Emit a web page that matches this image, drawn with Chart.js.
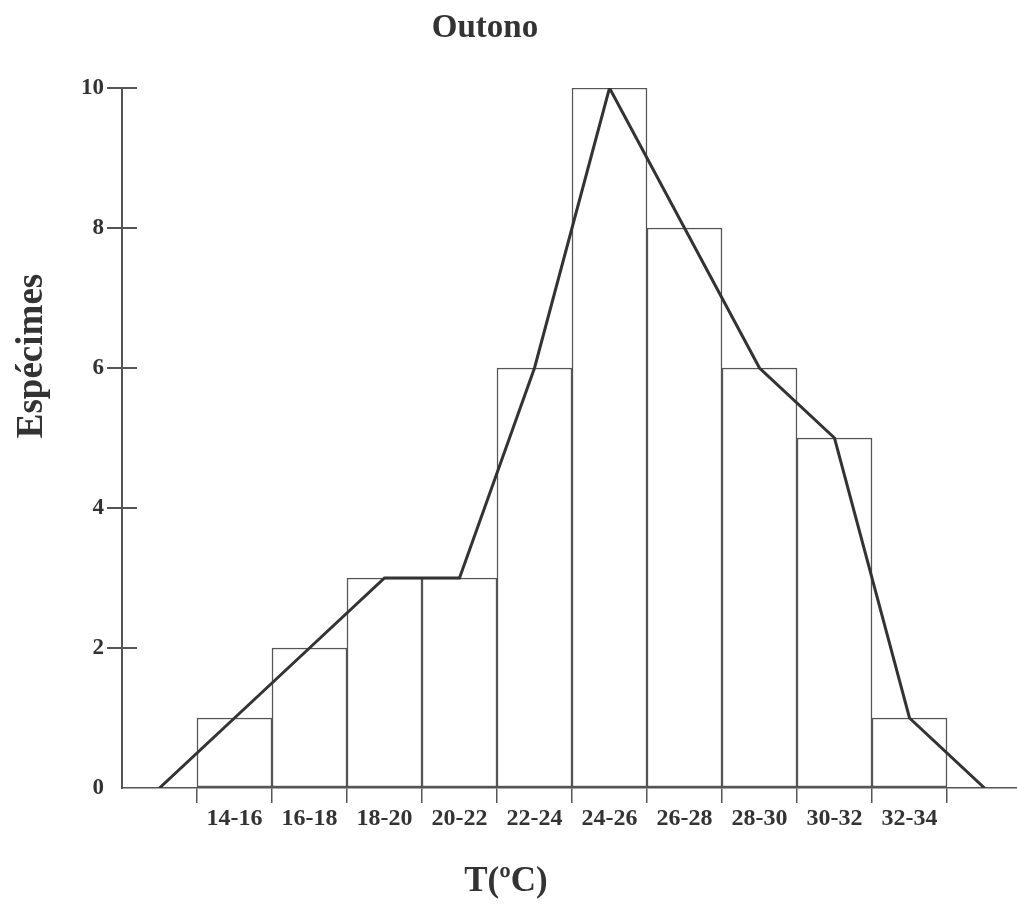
<!DOCTYPE html>
<html>
<head>
<meta charset="utf-8">
<script src="https://cdn.jsdelivr.net/npm/chart.js@4.4.1/dist/chart.umd.min.js"></script>
<style>
  body { margin: 0; background: #fff; }
  #wrap { width: 1017px; height: 907px; position: relative; }
</style>
</head>
<body>
<div id="wrap"><canvas id="chart"></canvas></div>
<script>
// classes de temperatura e número de espécimes
const categories = ["14-16", "16-18", "18-20", "20-22", "22-24", "24-26", "26-28", "28-30", "30-32", "32-34"];
const counts = [1, 2, 3, 3, 6, 10, 8, 6, 5, 1];
// polígono de frequências (com zeros nas pontas)
const polygon = [0, 1, 2, 3, 3, 6, 10, 8, 6, 5, 1, 0];
const yTicks = [0, 2, 4, 6, 8, 10];

const serif = "'Liberation Serif', 'Times New Roman', serif";
const ink = "#333";
const lineGrey = "#555";

const barData = counts.map((v, i) => ({ x: i + 1, y: v }));
const polyData = polygon.map((v, i) => ({ x: i, y: v }));
const edges = categories.map((c, i) => i + 0.5).concat([categories.length + 0.5]);

// texts placed like the original figure
const labelsPlugin = {
  id: "labels",
  afterDraw(chart) {
    const ctx = chart.ctx;
    const y = chart.scales.y;
    ctx.save();
    // inner half of y tick marks
    ctx.strokeStyle = lineGrey;
    ctx.lineWidth = 2;
    yTicks.forEach(v => {
      if (v === 0) return;
      const py = Math.round(y.getPixelForValue(v));
      ctx.beginPath();
      ctx.moveTo(y.right, py);
      ctx.lineTo(y.right + 15, py);
      ctx.stroke();
    });

    ctx.fillStyle = ink;
    ctx.textAlign = "center";
    ctx.textBaseline = "alphabetic";
    ctx.font = "bold 33px " + serif;
    ctx.fillText("Outono", 485, 37);

    ctx.font = "bold 35px " + serif;
    ctx.fillText("T(ºC)", 506, 891);

    ctx.translate(42, 356);
    ctx.rotate(-Math.PI / 2);
    ctx.font = "bold 37px " + serif;
    ctx.fillText("Espécimes", 0, 0);
    ctx.restore();
  }
};

new Chart(document.getElementById("chart"), {
  type: "bar",
  data: {
    datasets: [
      {
        type: "line",
        data: polyData,
        borderColor: ink,
        borderWidth: 3,
        pointRadius: 0,
        tension: 0,
        order: 0
      },
      {
        type: "bar",
        data: barData,
        backgroundColor: "#fff",
        borderColor: lineGrey,
        borderWidth: 1.5,
        borderSkipped: false,
        barPercentage: 1,
        categoryPercentage: 1,
        order: 1
      }
    ]
  },
  options: {
    responsive: true,
    maintainAspectRatio: false,
    animation: false,
    layout: { padding: { top: 88, left: 0, right: 0, bottom: 0 } },
    plugins: {
      legend: { display: false },
      title: { display: false },
      tooltip: { enabled: false }
    },
    scales: {
      x: {
        type: "linear",
        offset: false,
        min: -0.5,
        max: 11.4333,
        afterBuildTicks: s => { s.ticks = edges.map(v => ({ value: v })); },
        afterFit: s => { s.height = 119; },
        border: { display: true, color: lineGrey, width: 1.5 },
        grid: {
          offset: false,
          drawOnChartArea: false,
          drawTicks: true,
          tickLength: 15,
          color: lineGrey,
          lineWidth: 1.5
        },
        ticks: {
          autoSkip: false,
          maxRotation: 0,
          minRotation: 0,
          padding: 1,
          labelOffset: 37.5,
          color: ink,
          font: { family: serif, size: 24, weight: "bold" },
          callback: (v, i) => categories[i] || ""
        }
      },
      y: {
        min: 0,
        max: 10,
        afterBuildTicks: s => { s.ticks = yTicks.map(v => ({ value: v })); },
        afterFit: s => { s.width = 122; },
        border: { display: true, color: lineGrey, width: 2 },
        grid: {
          drawOnChartArea: false,
          drawTicks: true,
          tickLength: 15,
          lineWidth: 2,
          color: ctx => (ctx.tick && ctx.tick.value === 0 ? "rgba(0,0,0,0)" : lineGrey)
        },
        ticks: {
          padding: 3,
          color: ink,
          font: { family: serif, size: 23, weight: "bold" }
        }
      }
    }
  },
  plugins: [labelsPlugin]
});
</script>
</body>
</html>
